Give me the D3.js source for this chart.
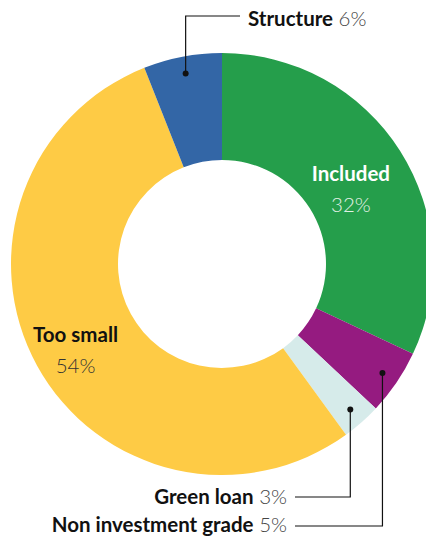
<!DOCTYPE html>
<html>
<head>
<meta charset="utf-8">
<script src="https://cdn.jsdelivr.net/npm/d3@7"></script>
<style>
  body { margin: 0; background: #fff; }
  svg text { font-family: Lato, "Open Sans", sans-serif; }
</style>
</head>
<body>
<div id="chart"></div>
<script>
// slices, clockwise from 12 o'clock
const categories = ["Included", "Non investment grade", "Green loan", "Too small", "Structure"]
const shares = [32, 5, 3, 54, 6]
const colors = ["#259e4b", "#951b80", "#d6ebea", "#fecb45", "#3366a6"]

const width = 426
const height = 537
const cx = 222, cy = 264
const outerR = 211
const innerR = 104
const fontSize = "20.5px"

const svg = d3.select("#chart").append("svg")
    .attr("width", width)
    .attr("height", height)

const data = categories.map((c, i) => ({name: c, value: shares[i], color: colors[i]}))

const pie = d3.pie().value(d => d.value).sort(null)
const arc = d3.arc().innerRadius(innerR).outerRadius(outerR)
const arcs = pie(data)

const g = svg.append("g").attr("transform", `translate(${cx},${cy})`)

g.selectAll("path")
    .data(arcs)
    .join("path")
    .attr("d", arc)
    .attr("fill", d => d.data.color)

// labels that sit inside the ring
const inside = {
    "Included": {r: 151, da: 1, fill: "#fff", pctFill: "#e3f1e6"},
    "Too small": {r: 168, da: -0.5, fill: "#111", pctFill: "#333"}
}
arcs.filter(d => inside[d.data.name]).forEach(d => {
    const o = inside[d.data.name]
    const a = (d.startAngle + d.endAngle) / 2 + o.da * Math.PI / 180
    const x = o.r * Math.sin(a), y = -o.r * Math.cos(a)
    g.append("text")
        .attr("x", x).attr("y", y - 4)
        .attr("text-anchor", "middle")
        .style("font-size", fontSize).style("font-weight", 700)
        .attr("fill", o.fill)
        .text(d.data.name)
    g.append("text")
        .attr("x", x).attr("y", y + 27)
        .attr("text-anchor", "middle")
        .style("font-size", fontSize).style("font-weight", 300)
        .attr("fill", o.pctFill)
        .text(d.data.value + "%")
})

// callouts with elbow leader lines
const dotR = 194
const callouts = {
    "Structure": {lineY: 16, textX: 248, dy: 10, anchor: "start"},
    "Green loan": {lineY: 497, textX: 295, dy: 7, anchor: "end"},
    "Non investment grade": {lineY: 526, textX: 295, dy: 6, anchor: "end"}
}
arcs.filter(d => callouts[d.data.name]).forEach(d => {
    const o = callouts[d.data.name]
    const a = (d.startAngle + d.endAngle) / 2
    const px = cx + dotR * Math.sin(a), py = cy - dotR * Math.cos(a)
    const endX = o.anchor === "start" ? o.textX - 8 : o.textX
    svg.append("path")
        .attr("d", `M${px},${py}V${o.lineY}H${endX}`)
        .attr("fill", "none")
        .attr("stroke", "#111")
        .attr("stroke-width", 1.2)
    svg.append("circle")
        .attr("cx", px).attr("cy", py).attr("r", 3)
        .attr("fill", "#111")
    const t = svg.append("text")
        .attr("x", o.anchor === "start" ? o.textX : o.textX - 8)
        .attr("y", o.lineY + o.dy)
        .attr("text-anchor", o.anchor)
        .style("font-size", fontSize)
    t.append("tspan").style("font-weight", 700).attr("fill", "#111").text(d.data.name)
    t.append("tspan").style("font-weight", 300).attr("fill", "#444").text(" " + d.data.value + "%")
})
</script>
</body>
</html>
